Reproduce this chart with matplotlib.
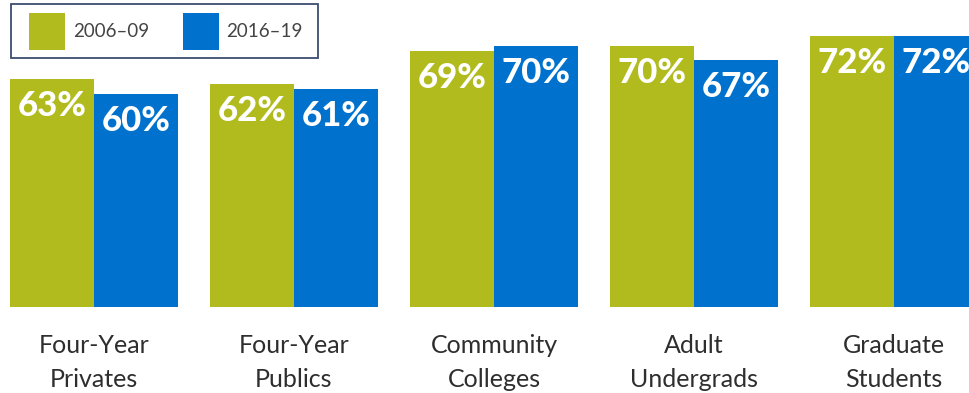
import numpy as np
import matplotlib
matplotlib.use("Agg")
import matplotlib.pyplot as plt
from matplotlib.patches import Rectangle

categories = [("Four-Year", "Privates"), ("Four-Year", "Publics"),
              ("Community", "Colleges"), ("Adult", "Undergrads"),
              ("Graduate", "Students")]
series_names = ["2006\u201309", "2016\u201319"]
early = [63, 62, 69, 70, 72]
late = [60, 61, 70, 67, 72]

GREEN = "#B2BB1E"
BLUE = "#0072CE"
W, H = 970, 393

plt.rcParams["font.family"] = ["Lato", "DejaVu Sans"]

fig = plt.figure(figsize=(W / 100, H / 100), dpi=100)
# plot area: bottom of bars at y=307px, 4.8 px per percentage point
base = 15.6
ax = fig.add_axes([0, (H - 307) / H, 1, 307 / H])
ax.set_ylim(base, base + 307 / 4.8)
ax.set_xlim(-94 / 200, (W - 94) / 200)
ax.set_axis_off()

x = np.arange(len(categories))
bw = 0.42
b1 = ax.bar(x - bw / 2, early, bw, color=GREEN, bottom=0, linewidth=0)
b2 = ax.bar(x + bw / 2, late, bw, color=BLUE, bottom=0, linewidth=0)

for bars, vals in [(b1, early), (b2, late)]:
    for rect, v in zip(bars, vals):
        ax.annotate(f"{v}%", (rect.get_x() + rect.get_width() / 2, v),
                    xytext=(0, -26.6), textcoords="offset points",
                    ha="center", va="baseline", color="white",
                    fontsize=25, fontweight="black")

# two-line category labels under each group
for xi, (l1, l2) in zip(x, categories):
    xf = (94 + 200 * xi) / W
    fig.text(xf, 1 - 353 / H, l1, ha="center", va="baseline",
             fontsize=18, color="#2e2e2e")
    fig.text(xf, 1 - 387 / H, l2, ha="center", va="baseline",
             fontsize=18, color="#2e2e2e")


def px(x0, y0, w=0, h=0):
    return x0 / W, 1 - (y0 + h) / H, w / W, h / H


# legend box
lx, ly, lw, lh = px(11, 4, 307, 54)
fig.patches.append(Rectangle((lx, ly), lw, lh, transform=fig.transFigure,
                             facecolor="white", edgecolor="#3d4d6e",
                             linewidth=1.3))
for sx, tx, col, name in [(29, 73, GREEN, series_names[0]),
                          (183, 226, BLUE, series_names[1])]:
    rx, ry, rw, rh = px(sx, 13, 36, 37)
    fig.patches.append(Rectangle((rx, ry), rw, rh, transform=fig.transFigure,
                                 facecolor=col, edgecolor="none"))
    fig.text(tx / W, 1 - 31.5 / H, name, ha="left", va="center",
             fontsize=13.5, color="#444444")

fig.savefig("out.png", dpi=100)
